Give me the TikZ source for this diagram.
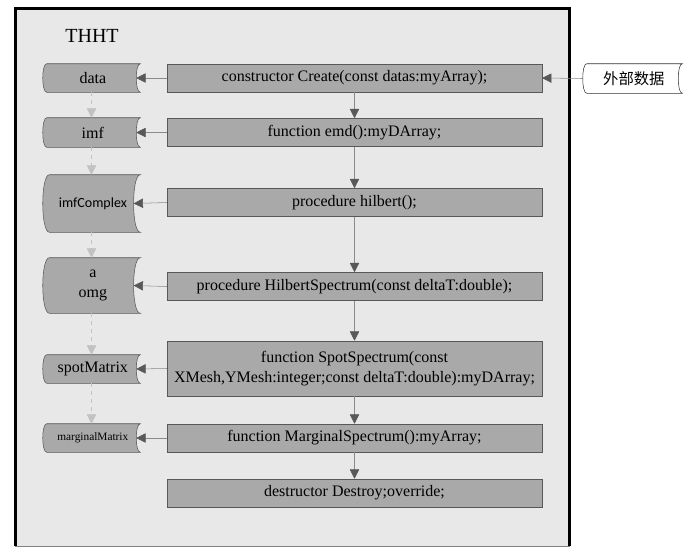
\documentclass[tikz,border=0pt]{standalone}
\usepackage{fontspec}
\setmainfont{Liberation Serif}
\newfontfamily\cjkfont{Noto Sans CJK SC}
\newfontfamily\calfont{Carlito}
\usetikzlibrary{arrows.meta, positioning}

\definecolor{panelgray}{HTML}{E8E8E8}
\definecolor{boxgray}{HTML}{A9A9A9}
\definecolor{tipgray}{HTML}{585858}
\definecolor{wiregray}{HTML}{8A8A8A}
\definecolor{dashgray}{HTML}{C2C2C2}

% outline of a stored-data symbol round node #1, curve depth #2
\newcommand{\storeshape}[3][store]{%
  \draw[#1] ([xshift=#3]#2.north west) -- (#2.north east)
    .. controls ([xshift=-1.333*#3]#2.north east) and ([xshift=-1.333*#3]#2.south east) .. (#2.south east)
    -- ([xshift=#3]#2.south west)
    .. controls ([xshift=-0.333*#3]#2.south west) and ([xshift=-0.333*#3]#2.north west) .. cycle;}

\begin{document}
\begin{tikzpicture}[
    x=0.75pt, y=-0.75pt,
    font=\fontsize{12}{15}\selectfont,
    box/.style   = {draw=tipgray, fill=boxgray, minimum width=281pt, minimum height=21pt,
                    inner sep=0pt, align=center},
    data/.style  = {minimum width=72.75pt, minimum height=21pt, inner sep=0pt, align=center},
    store/.style = {draw=tipgray, fill=boxgray},
    extern/.style= {draw=black!80, fill=white},
    flow/.style  = {draw=wiregray, -{Triangle[length=7pt,width=7pt,color=tipgray]}},
    pass/.style  = {draw=dashgray, dashed, -{Triangle[length=7pt,width=7pt,color=dashgray]}}
    ]
\useasboundingbox (0,0) rectangle (689,547);
%
\fill[panelgray, draw=gray] (15,8) rectangle (569,546);
\draw[line width=2.25pt] (15,546) -- (15,8) -- (569,8) -- (569,546);
\node (title) at (92,36) {\fontsize{15}{18}\selectfont THHT};
%
% methods
\node[box] (create)   at (354.5,78)    {constructor Create(const datas:myArray);};
\node[box] (emd)      at (354.5,132.5) {function emd():myDArray;};
\node[box] (hilbert)  at (354.5,202.5) {procedure hilbert();};
\node[box] (hspec)    at (354.5,286.5) {procedure HilbertSpectrum(const deltaT:double);};
\node[box, minimum height=41.25pt] (spot) at (354.5,368.5)
    {function SpotSpectrum(const\\XMesh,YMesh:integer;const deltaT:double):myDArray;};
\node[box] (marginal) at (354.5,438)   {function MarginalSpectrum():myArray;};
\node[box] (destroy)  at (354.5,493)   {destructor Destroy;override;};
%
% fields
\node[data] (datas)   at (91.5,78) {};
\node[data, minimum height=21.75pt] (imf) at (91.5,132.5) {};
\node[data, minimum height=42.75pt] (imfc) at (91.5,203.5) {};
\node[data, minimum height=41.25pt] (aomg) at (91.5,285.5) {};
\node[data] (spotm)   at (91.5,369) {};
\node[data] (margm)   at (91.5,438) {};
\node[data, minimum width=74.25pt, minimum height=21.75pt] (outer) at (632.5,78.5) {};
%
\storeshape{datas}{3pt}
\storeshape{imf}{3pt}
\storeshape{imfc}{5pt}
\storeshape{aomg}{5pt}
\storeshape{spotm}{3pt}
\storeshape{margm}{3pt}
\storeshape[extern]{outer}{3pt}
%
\node at ([xshift=1pt]datas) {data};
\node at ([xshift=1pt]imf) {imf};
\node at ([xshift=1pt]imfc) {\calfont\fontsize{10.5}{12}\selectfont imfComplex};
\node[align=center] at ([xshift=1pt]aomg) {a\\omg};
\node at ([xshift=1pt]spotm) {spotMatrix};
\node at ([xshift=1pt]margm) {\fontsize{8.5}{10}\selectfont marginalMatrix};
\node at ([xshift=1pt]outer) {\cjkfont\fontsize{11.5}{14}\selectfont 外部数据};
%
\draw[flow] (outer.west) -- (create.east);
\foreach \a/\b in {create/emd, emd/hilbert, hilbert/hspec, hspec/spot, spot/marginal, marginal/destroy}
    \draw[flow] (\a) -- (\b);
\foreach \a/\b/\d in {create/datas/3pt, emd/imf/3pt, hilbert/imfc/5pt, hspec/aomg/5pt, spot/spotm/3pt, marginal/margm/3pt}
    \draw[flow] (\a.west) -- ([xshift=-\d]\b.east);
\foreach \a/\b in {datas/imf, imf/imfc, imfc/aomg, aomg/spotm, spotm/margm}
    \draw[pass] (\a.south) -- (\b.north);
\end{tikzpicture}
\end{document}
